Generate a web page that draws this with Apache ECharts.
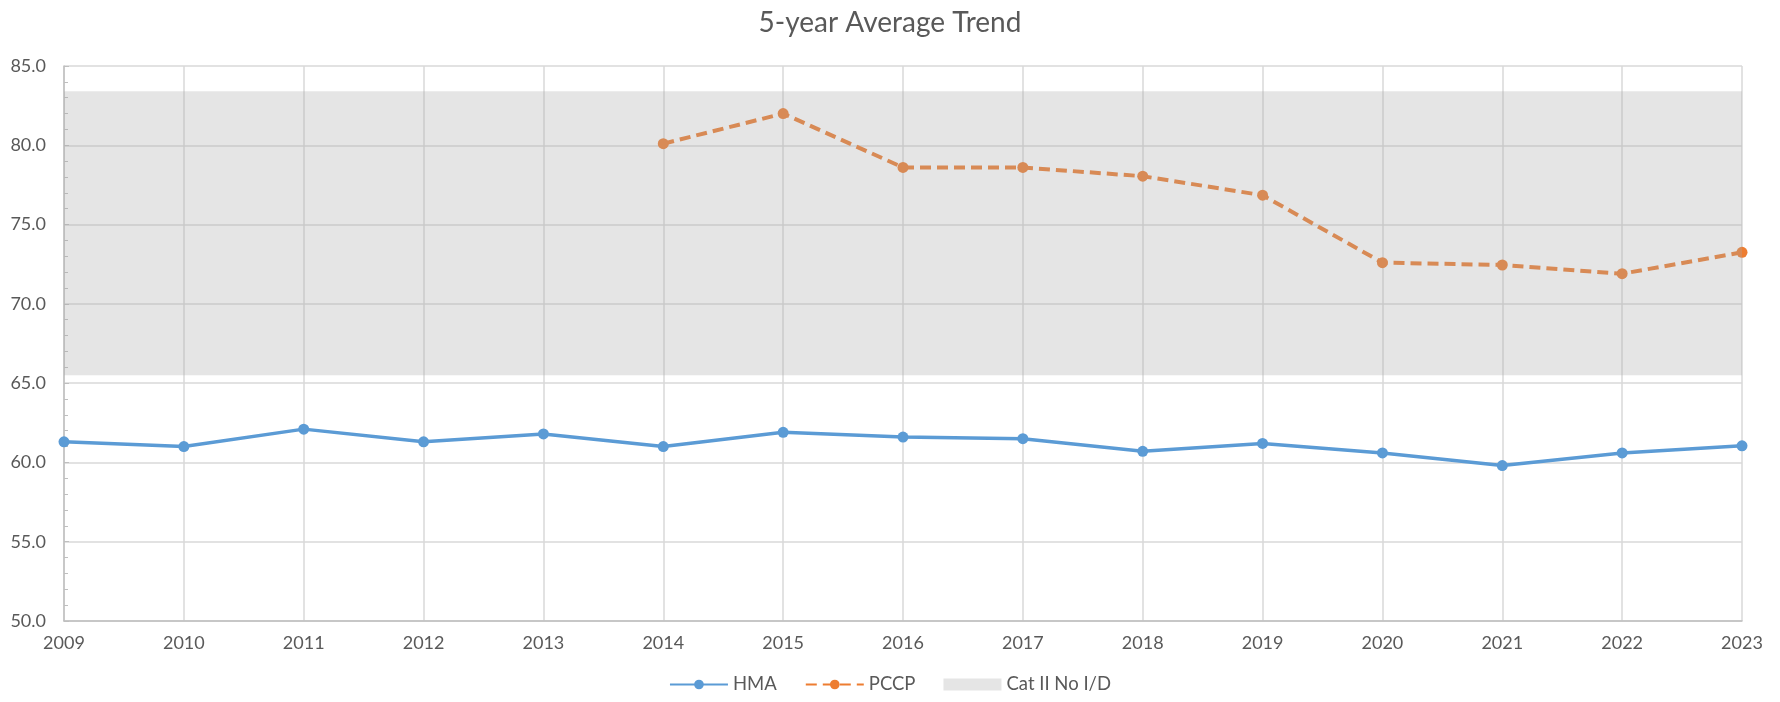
<!DOCTYPE html>
<html lang="en">
<head>
  <meta charset="UTF-8">
  <title>5-year Average Trend</title>
  <script src="https://cdn.jsdelivr.net/npm/echarts@6/dist/echarts.min.js"></script>
  <style>
    html, body { margin: 0; padding: 0; background: #fff; }
    #chart { width: 1780px; height: 702px; }
  </style>
</head>
<body>
<div id="chart"></div>
<script>
  // data
  const years = ['2009', '2010', '2011', '2012', '2013', '2014', '2015', '2016',
    '2017', '2018', '2019', '2020', '2021', '2022', '2023'];
  const hma = [61.3, 61.0, 62.1, 61.3, 61.8, 61.0, 61.9, 61.6, 61.5, 60.7, 61.2, 60.6, 59.8, 60.6, 61.05];
  const pccp = [null, null, null, null, null, 80.1, 82.0, 78.6, 78.6, 78.05, 76.85, 72.6, 72.45, 71.9, 73.25];
  const bandLow = 65.5;
  const bandHigh = 83.4;

  const font = 'Lato, "Open Sans", sans-serif';
  const textGrey = '#595959';

  let chart = echarts.init(document.getElementById('chart'));
  let option = {
    animation: false,
    title: {
      text: '5-year Average Trend',
      left: 'center',
      top: 4,
      textStyle: { fontFamily: font, fontSize: 28, fontWeight: 'normal', color: textGrey }
    },
    legend: {
      bottom: 3,
      left: 'center',
      itemWidth: 58,
      itemHeight: 12,
      itemGap: 28,
      textStyle: { fontFamily: font, fontSize: 18.5, color: textGrey },
      data: [
        { name: 'HMA' },
        { name: 'PCCP' },
        { name: 'Cat II No I/D', icon: 'rect', itemStyle: { color: '#e5e5e5' } }
      ]
    },
    grid: { left: 64, right: 38, top: 66, bottom: 81 },
    xAxis: {
      type: 'category',
      data: years,
      boundaryGap: false,
      axisLine: { lineStyle: { color: '#bfbfbf', width: 1.5 } },
      axisTick: { show: false },
      axisLabel: { fontFamily: font, fontSize: 18, color: textGrey, margin: 13 },
      splitLine: { show: true, lineStyle: { color: '#d9d9d9', width: 1.5 } }
    },
    yAxis: {
      type: 'value',
      min: 50,
      max: 85,
      interval: 5,
      axisLine: { show: true, lineStyle: { color: '#bfbfbf', width: 1.5 } },
      axisTick: { show: true, inside: true, length: 5, lineStyle: { color: '#bfbfbf' } },
      minorTick: { show: true, splitNumber: 5, length: 4, lineStyle: { color: '#bfbfbf' } },
      axisLabel: {
        fontFamily: font, fontSize: 18, color: textGrey, margin: 18,
        formatter: v => v.toFixed(1)
      },
      splitLine: { lineStyle: { color: '#d9d9d9', width: 1.5 } }
    },
    series: [
      {
        name: 'HMA',
        type: 'line',
        data: hma,
        symbol: 'circle',
        symbolSize: 11,
        color: '#5b9bd5',
        lineStyle: { width: 3.5 },
        z: 3
      },
      {
        name: 'PCCP',
        type: 'line',
        data: pccp,
        symbol: 'circle',
        symbolSize: 11,
        color: '#ed7d31',
        lineStyle: { width: 4, type: [11, 6] },
        z: 3
      },
      {
        name: 'Cat II No I/D',
        type: 'line',
        data: [],
        color: '#e5e5e5',
        z: 5,
        markArea: {
          silent: true,
          z: 5,
          itemStyle: { color: 'rgba(168,168,168,0.3)' },
          data: [[{ yAxis: bandLow }, { yAxis: bandHigh }]]
        }
      }
    ]
  };
  chart.setOption(option);
</script>
</body>
</html>
